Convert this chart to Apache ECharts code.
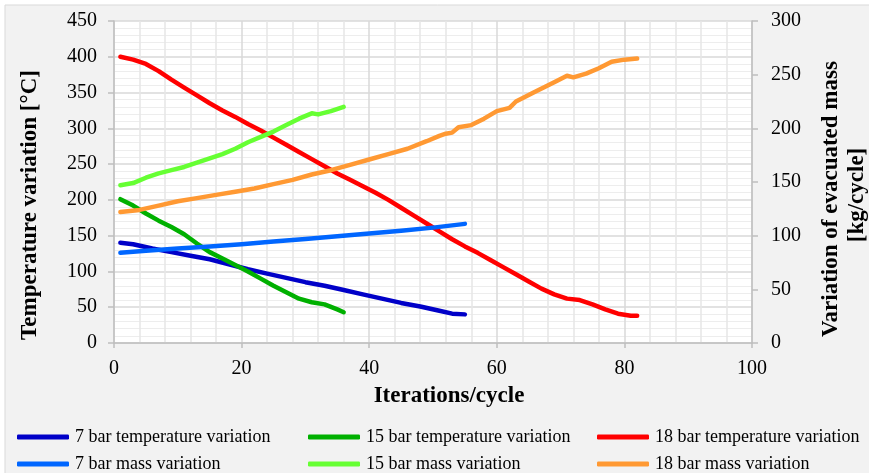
<!DOCTYPE html>
<html>
<head>
<meta charset="utf-8">
<script src="https://cdn.jsdelivr.net/npm/echarts@6/dist/echarts.min.js"></script>
<style>
html, body {margin:0; padding:0; background:#fff;}
#chart {width:869px; height:473px;}
</style>
</head>
<body>
<div id="chart"></div>
<script>
// iterations (x) and values for every curve
const iter7Temp = [1, 3, 6, 9, 12, 15, 18, 21, 24, 27, 30, 33, 36, 39, 42, 45, 48, 51, 53, 55];
const temp7 = [140, 138, 132, 127, 122, 117, 110, 103, 97, 91, 85, 80, 74, 68, 62, 56, 51, 45, 41, 40];

const iter15Temp = [1, 3, 5, 7, 9, 11, 13, 15, 17, 19, 21, 23, 25, 27, 29, 31, 33, 35, 36];
const temp15 = [201, 192, 181, 171, 162, 152, 139, 127, 118, 109, 100, 90, 80, 71, 62, 57, 54, 47, 43];

const iter18Temp = [1, 3, 5, 7, 9, 11, 13, 15, 17, 19, 21, 23, 25, 27, 29, 31, 33, 35, 37, 39, 41,
    43, 45, 47, 49, 51, 53, 55, 57, 59, 61, 63, 65, 67, 69, 71, 73, 75, 77, 79, 81, 82];
const temp18 = [400, 396, 390, 380, 368, 357, 346, 335, 325, 316, 306, 297, 287, 277, 267, 257, 247, 237, 228, 219, 210,
    200, 189, 178, 167, 156, 145, 135, 126, 116, 106, 96, 86, 76, 68, 62, 60, 54, 47, 41, 38, 38];

const iter7Mass = [1, 5, 10, 15, 20, 25, 30, 35, 40, 45, 50, 55];
const mass7 = [84, 86, 88, 90, 92, 94.5, 97, 99.5, 102, 104.5, 107.5, 111];

const iter15Mass = [1, 3, 5, 7, 9, 11, 13, 15, 17, 19, 21, 23, 25, 27, 29, 31, 32, 34, 36];
const mass15 = [147, 149, 154, 158, 161, 164, 168, 172, 176, 181, 187, 192, 197, 203, 209, 214, 213, 216, 220];

const iter18Mass = [1, 4, 7, 10, 13, 16, 19, 22, 25, 28, 31, 34, 37, 40, 43, 46, 49, 51, 52, 53, 54,
    56, 58, 60, 62, 63, 66, 69, 71, 72, 74, 76, 78, 80, 82];
const mass18 = [122, 124, 128, 132, 135, 138, 141, 144, 148, 152, 157, 161, 166, 171, 176, 181, 188, 193, 195, 196, 201,
    203, 209, 216, 219, 225, 234, 243, 249, 247.5, 251, 256, 262, 264, 265];

const xTicks = {min: 0, max: 100, interval: 20};
const tempTicks = {min: 0, max: 450, interval: 50};
const massTicks = {min: 0, max: 300, interval: 50};

const fontSerif = 'Liberation Serif';

function pares(xs, ys) {
    return xs.map((x, i) => [x, ys[i]]);
}

let curvas = [
    {name: '7 bar temperature variation', x: iter7Temp, y: temp7, eje: 0, color: '#0000C8'},
    {name: '15 bar temperature variation', x: iter15Temp, y: temp15, eje: 0, color: '#00B000'},
    {name: '18 bar temperature variation', x: iter18Temp, y: temp18, eje: 0, color: '#FF0000'},
    {name: '7 bar mass variation', x: iter7Mass, y: mass7, eje: 1, color: '#0066FF'},
    {name: '15 bar mass variation', x: iter15Mass, y: mass15, eje: 1, color: '#66FF33'},
    {name: '18 bar mass variation', x: iter18Mass, y: mass18, eje: 1, color: '#FF9933'}
];

let etiqueta = () => ({fontFamily: fontSerif, fontSize: 20, color: '#000'});
let lineaEje = {show: true, lineStyle: {color: '#BFBFBF', width: 1.5}};

let leyenda = (left, nombres) => ({
    orient: 'vertical',
    left: left,
    top: 428,
    itemWidth: 52,
    itemHeight: 5,
    itemGap: 9,
    icon: 'roundRect',
    padding: 0,
    data: nombres,
    textStyle: {fontFamily: fontSerif, fontSize: 18, color: '#000', padding: [0, 0, 0, 1]}
});

let chart = echarts.init(document.getElementById('chart'), null, {renderer: 'canvas'});
chart.setOption({
    animation: false,
    backgroundColor: '#fff',
    textStyle: {fontFamily: fontSerif},
    graphic: [
        {type: 'rect', z: -10, shape: {x: 5, y: 5, width: 880, height: 480},
            style: {fill: '#F2F2F2', stroke: '#D9D9D9', lineWidth: 1}},
        {type: 'text', x: 30, y: 205, rotation: Math.PI / 2,
            style: {text: 'Temperature variation [°C]', font: 'bold 23px ' + fontSerif,
                fill: '#000', align: 'center', verticalAlign: 'middle'}},
        {type: 'text', x: 449, y: 396,
            style: {text: 'Iterations/cycle', font: 'bold 23px ' + fontSerif,
                fill: '#000', align: 'center', verticalAlign: 'middle'}},
        {type: 'text', x: 831, y: 199, rotation: Math.PI / 2,
            style: {text: 'Variation of evacuated mass', font: 'bold 23px ' + fontSerif,
                fill: '#000', align: 'center', verticalAlign: 'middle'}},
        {type: 'text', x: 857, y: 195, rotation: Math.PI / 2,
            style: {text: '[kg/cycle]', font: 'bold 23px ' + fontSerif,
                fill: '#000', align: 'center', verticalAlign: 'middle'}}
    ],
    grid: {left: 114, right: 117, top: 21, bottom: 130, show: true,
        backgroundColor: '#fff', borderWidth: 0, containLabel: false},
    legend: [
        leyenda(17, [curvas[0].name, curvas[3].name]),
        leyenda(308, [curvas[1].name, curvas[4].name]),
        leyenda(597, [curvas[2].name, curvas[5].name])
    ],
    xAxis: {
        type: 'value', min: xTicks.min, max: xTicks.max, interval: xTicks.interval,
        axisLine: lineaEje,
        axisTick: {show: true, length: 5, lineStyle: {color: '#BFBFBF', width: 1.5}},
        axisLabel: Object.assign({margin: 16}, etiqueta()),
        splitLine: {show: true, lineStyle: {color: '#D9D9D9', width: 1.5}},
        minorTick: {show: false, splitNumber: 5},
        minorSplitLine: {show: true, lineStyle: {color: '#E6E6E6', width: 1.5}}
    },
    yAxis: [
        {
            type: 'value', min: tempTicks.min, max: tempTicks.max, interval: tempTicks.interval,
            axisLine: lineaEje,
            axisTick: {show: true, length: 6, lineStyle: {color: '#BFBFBF', width: 1.5}},
            axisLabel: Object.assign({margin: 17}, etiqueta()),
            splitLine: {show: true, lineStyle: {color: '#D9D9D9', width: 1.5}},
            minorTick: {show: false, splitNumber: 5},
            minorSplitLine: {show: true, lineStyle: {color: '#EDEDED', width: 1}}
        },
        {
            type: 'value', position: 'right', min: massTicks.min, max: massTicks.max, interval: massTicks.interval,
            axisLine: lineaEje,
            axisTick: {show: true, length: 6, lineStyle: {color: '#BFBFBF', width: 1.5}},
            axisLabel: Object.assign({margin: 19}, etiqueta()),
            splitLine: {show: false}
        }
    ],
    series: curvas.map(c => ({
        name: c.name,
        type: 'line',
        yAxisIndex: c.eje,
        data: pares(c.x, c.y),
        showSymbol: false,
        symbol: 'none',
        color: c.color,
        lineStyle: {width: 4.5, color: c.color, cap: 'round', join: 'round'},
        itemStyle: {color: c.color}
    }))
});
</script>
</body>
</html>
